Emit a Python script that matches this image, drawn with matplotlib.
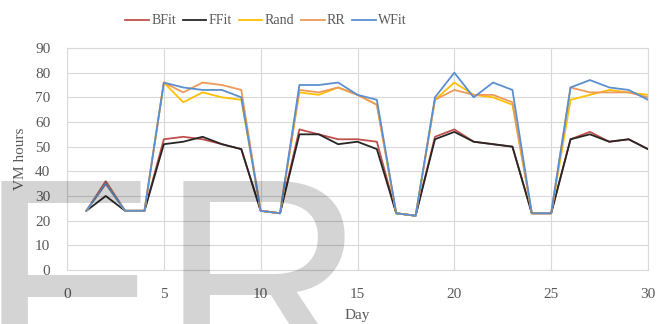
import matplotlib
matplotlib.use("Agg")
import matplotlib.pyplot as plt

days = list(range(1, 31))
bfit = [24, 36, 24, 24, 53, 54, 53, 51, 49, 24, 23, 57, 55, 53, 53, 52, 23, 22, 54, 57, 52, 51, 50, 23, 23, 53, 56, 52, 53, 49]
ffit = [24, 30, 24, 24, 51, 52, 54, 51, 49, 24, 23, 55, 55, 51, 52, 49, 23, 22, 53, 56, 52, 51, 50, 23, 23, 53, 55, 52, 53, 49]
rand = [24, 35, 24, 24, 76, 68, 72, 70, 69, 24, 23, 72, 71, 74, 71, 67, 23, 22, 69, 76, 71, 70, 67, 23, 23, 69, 71, 73, 72, 71]
rr = [24, 35, 24, 24, 76, 72, 76, 75, 73, 24, 23, 73, 72, 74, 71, 67, 23, 22, 69, 73, 71, 71, 68, 23, 23, 74, 72, 72, 72, 70]
wfit = [24, 35, 24, 24, 76, 74, 73, 73, 70, 24, 23, 75, 75, 76, 71, 69, 23, 22, 70, 80, 70, 76, 73, 23, 23, 74, 77, 74, 73, 69]

series_names = ["BFit", "FFit", "Rand", "RR", "WFit"]
series_vals = [bfit, ffit, rand, rr, wfit]
colors = ["#C0504D", "#262626", "#FFC000", "#ED9A5A", "#5B8FCF"]

xticks = [0, 5, 10, 15, 20, 25, 30]
yticks = [0, 10, 20, 30, 40, 50, 60, 70, 80, 90]

plt.rcParams['font.family'] = ['Liberation Serif', 'DejaVu Serif']
W, H = 658, 324
fig = plt.figure(figsize=(W / 100, H / 100), dpi=100)
ax = fig.add_axes([67 / W, (H - 270) / H, (648 - 67) / W, (270 - 48) / H])

for name, vals, c in zip(series_names, series_vals, colors):
    ax.plot(days, vals, color=c, lw=1.3, label=name)

ax.set_xlim(0, 30)
ax.set_ylim(0, 90)
ax.set_xticks(xticks)
ax.set_yticks(yticks)
ax.grid(True, color="#d9d9d9", lw=0.8)
ax.set_axisbelow(True)
for s in ax.spines.values():
    s.set_color("#d9d9d9")
    s.set_linewidth(0.8)
ax.tick_params(length=0, labelsize=11, labelcolor="#595959")
ax.tick_params(axis='x', pad=13)
ax.tick_params(axis='y', pad=12)

ax.set_xlabel("Day", fontsize=11, color="#595959")
ax.xaxis.set_label_coords(0.5, -(309 - 270) / 222)
ax.set_ylabel("VM hours", fontsize=11, color="#595959", labelpad=6)

fig.legend(loc="center", bbox_to_anchor=(266 / W, 1 - 21 / H), ncol=5, frameon=False,
           fontsize=10, handlelength=1.7, handletextpad=0.15, columnspacing=0.5,
           labelcolor="#595959")

# watermark letters
wm_kw = dict(fontsize=205, family="Liberation Sans", color="#000000", alpha=0.17,
             ha="left", va="baseline", zorder=10)
fig.text(-22 / W, (H - 376) / H, "F", **wm_kw)
fig.text(160 / W, (H - 376) / H, "R", **wm_kw)

fig.savefig("out.png", dpi=100)
